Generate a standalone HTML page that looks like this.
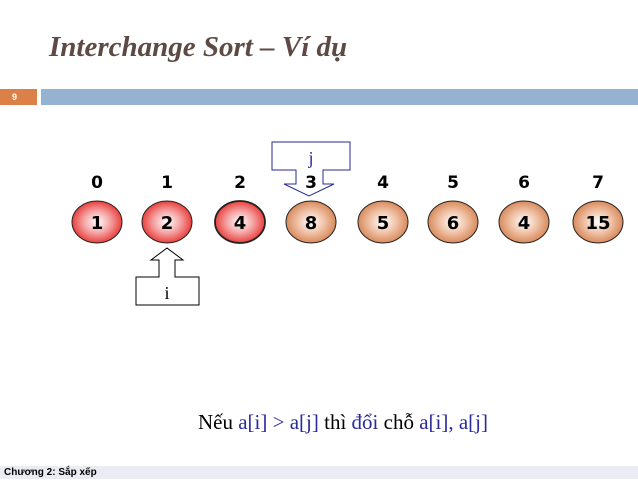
<!DOCTYPE html>
<html><head><meta charset="utf-8"><style>
body{margin:0;width:638px;height:479px;background:#fff;position:relative;overflow:hidden;font-family:"Liberation Sans",sans-serif}
.t{position:absolute;left:49px;top:31px;font-family:"Liberation Serif",serif;font-style:italic;font-weight:bold;font-size:29px;color:#5e4a44}
.num{position:absolute;left:0;top:89px;width:37px;height:16px;background:#dd8047;color:#fff;font-size:9px;font-weight:bold;line-height:16px;padding-left:12px;box-sizing:border-box}
.bar{position:absolute;left:41px;top:89px;width:597px;height:16px;background:#95b3d0}
.msg{position:absolute;left:0;width:638px;top:410px;text-align:center;padding-left:48px;box-sizing:border-box;font-family:"Liberation Serif",serif;font-size:21px;color:#000}
.b{color:#2a2a9a}
.foot{position:absolute;left:0;top:466px;width:638px;height:13px;background:#e9edf3;font-size:10px;font-weight:bold;line-height:14px;padding-left:4px;box-sizing:border-box}
</style></head><body>
<div class="t">Interchange Sort – Ví dụ</div>
<div class="num">9</div>
<div class="bar"></div>
<svg width="638" height="479" style="position:absolute;left:0;top:0">
<defs>
<radialGradient id="r"><stop offset="0" stop-color="#fff"/><stop offset="0.55" stop-color="#f4a0a0"/><stop offset="1" stop-color="#e8403c"/></radialGradient>
<radialGradient id="o"><stop offset="0" stop-color="#fff"/><stop offset="0.55" stop-color="#efc0a4"/><stop offset="1" stop-color="#d88a5c"/></radialGradient>
</defs>
<path d="M272 142H350V170H323V184H334L309 196L284 184H296V170H272Z" fill="#fff" stroke="#2a2a9a" stroke-width="1"/>
<text x="311" y="164" font-family="Liberation Serif" font-size="18" fill="#2a2a9a" text-anchor="middle">j</text>
<path d="M136 305H199V277H175V260H183L167 248L151 260H159V277H136Z" fill="#fff" stroke="#000" stroke-width="1"/>
<text x="167" y="299" font-family="Liberation Serif" font-size="18" text-anchor="middle">i</text>
<g id="cells"></g>
</svg>
<div class="msg">Nếu <span class="b">a[i] &gt; a[j]</span> thì <span class="b">đổi</span> chỗ <span class="b">a[i], a[j]</span></div>
<div class="foot">Chương 2: Sắp xếp</div>
<script>
const values=[1,2,4,8,5,6,4,15];
const xs=[97,167,240,311,383,453,524,598];
const g=document.getElementById('cells');
const NS='http://www.w3.org/2000/svg';
values.forEach((v,k)=>{
 const e=document.createElementNS(NS,'ellipse');
 
 
 e.setAttribute('cx',xs[k]);e.setAttribute('cy',222);e.setAttribute('rx',25);e.setAttribute('ry',21);
 e.setAttribute('fill',k<3?'url(#r)':'url(#o)');e.setAttribute('stroke','#222');e.setAttribute('stroke-width',k==2?1.8:1);
 g.appendChild(e);
 const t=document.createElementNS(NS,'text');
 
 
 t.setAttribute('x',xs[k]);t.setAttribute('y',229);t.setAttribute('text-anchor','middle');
 t.setAttribute('font-family','DejaVu Sans');t.setAttribute('font-weight','bold');t.setAttribute('font-size','18');
 t.textContent=v;g.appendChild(t);
 const ix=document.createElementNS(NS,'text');
 
 
 ix.setAttribute('x',xs[k]);ix.setAttribute('y',188);ix.setAttribute('text-anchor','middle');
 ix.setAttribute('font-family','DejaVu Sans');ix.setAttribute('font-weight','bold');ix.setAttribute('font-size','17');
 ix.textContent=k;g.appendChild(ix);
});
</script>
</body></html>
